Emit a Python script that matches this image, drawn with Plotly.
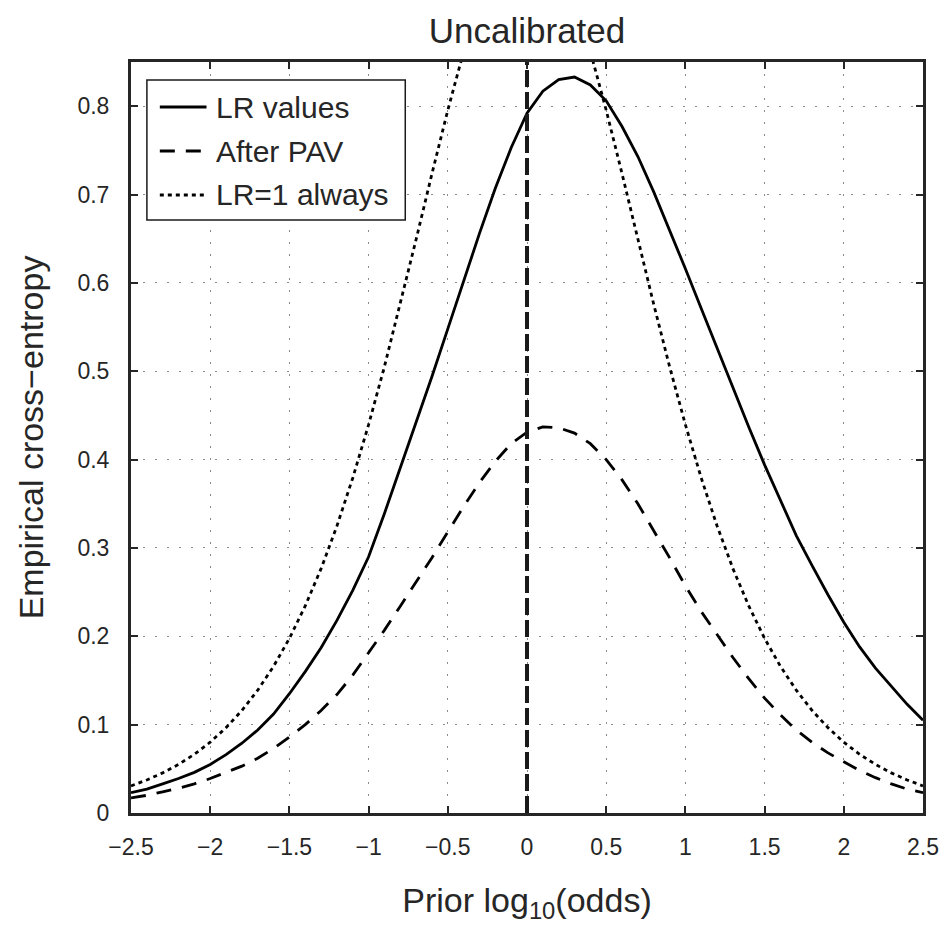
import plotly.graph_objects as go

# ---- data ----
prior_log10_odds = [-2.5, -2.4, -2.3, -2.2, -2.1, -2.0, -1.9, -1.8, -1.7, -1.6,
                    -1.5, -1.4, -1.3, -1.2, -1.1, -1.0, -0.9, -0.8, -0.7, -0.6,
                    -0.5, -0.4, -0.3, -0.2, -0.1, 0.0, 0.1, 0.2, 0.3, 0.4,
                    0.5, 0.6, 0.7, 0.8, 0.9, 1.0, 1.1, 1.2, 1.3, 1.4,
                    1.5, 1.6, 1.7, 1.8, 1.9, 2.0, 2.1, 2.2, 2.3, 2.4, 2.5]

lr_values = [0.023, 0.027, 0.033, 0.039, 0.046, 0.055, 0.066, 0.079, 0.094, 0.112,
             0.135, 0.160, 0.187, 0.218, 0.252, 0.290, 0.339, 0.390, 0.441, 0.494,
             0.548, 0.602, 0.656, 0.707, 0.753, 0.792, 0.817, 0.830, 0.833, 0.824,
             0.806, 0.777, 0.743, 0.703, 0.660, 0.616, 0.571, 0.526, 0.481, 0.437,
             0.394, 0.353, 0.314, 0.280, 0.247, 0.216, 0.188, 0.164, 0.143, 0.123, 0.105]

after_pav = [0.017, 0.020, 0.024, 0.028, 0.033, 0.039, 0.046, 0.053, 0.062, 0.073,
             0.086, 0.100, 0.116, 0.134, 0.156, 0.181, 0.207, 0.234, 0.261, 0.289,
             0.318, 0.347, 0.374, 0.398, 0.418, 0.431, 0.437, 0.436, 0.430, 0.418,
             0.400, 0.377, 0.350, 0.320, 0.289, 0.257, 0.228, 0.202, 0.176, 0.152,
             0.130, 0.111, 0.094, 0.080, 0.068, 0.058, 0.048, 0.040, 0.033, 0.027, 0.023]

lr1_always = [0.0307, 0.0374, 0.0454, 0.0550, 0.0664, 0.0801, 0.0966, 0.1160, 0.1390, 0.1660,
              0.1976, 0.2344, 0.2766, 0.3249, 0.3792, 0.4395, 0.5053, 0.5758, 0.6492, 0.7236,
              0.7955, 0.8618, 0.9189, 0.9628, 0.9905, 1.0000, 0.9905, 0.9628, 0.9189, 0.8618,
              0.7955, 0.7236, 0.6492, 0.5758, 0.5053, 0.4395, 0.3792, 0.3249, 0.2766, 0.2344,
              0.1976, 0.1660, 0.1390, 0.1160, 0.0966, 0.0801, 0.0664, 0.0550, 0.0454, 0.0374, 0.0307]

x_tick_vals = [-2.5, -2.0, -1.5, -1.0, -0.5, 0.0, 0.5, 1.0, 1.5, 2.0, 2.5]
x_tick_text = ["\u22122.5", "\u22122", "\u22121.5", "\u22121", "\u22120.5", "0",
               "0.5", "1", "1.5", "2", "2.5"]
y_tick_vals = [0.0, 0.1, 0.2, 0.3, 0.4, 0.5, 0.6, 0.7, 0.8]
y_tick_text = ["0", "0.1", "0.2", "0.3", "0.4", "0.5", "0.6", "0.7", "0.8"]
reference_x = [0.0]

series_names = ["LR values", "After PAV", "LR=1 always"]

FONT = "Liberation Sans, Arial, Helvetica, sans-serif"
INK = "#262626"

fig = go.Figure()
series = [(lr_values, "solid", 2.8), (after_pav, "15px,11px", 2.8), (lr1_always, "4px,4px", 2.8)]
for name, (vals, dash, w) in zip(series_names, series):
    fig.add_trace(go.Scatter(x=prior_log10_odds, y=vals, mode="lines", name=name,
                             line=dict(color="black", width=w, dash=dash),
                             showlegend=False, hoverinfo="x+y+name"))

# vertical reference line at prior log odds = 0
for xv in reference_x:
    fig.add_shape(type="line", xref="x", yref="y domain", x0=xv, x1=xv, y0=0, y1=1,
                  line=dict(color="#1a1a1a", width=4, dash="17px,5px"), layer="above")

# ---- manual legend (box, samples, labels) ----
def px_x(p):
    return (p - 131) / 797.0

def px_y(p):
    return (813 - p) / 751.0

fig.add_shape(type="rect", xref="paper", yref="paper",
              x0=px_x(147), x1=px_x(407), y0=px_y(220), y1=px_y(80),
              line=dict(color="#1a1a1a", width=1.5), fillcolor="white", layer="above")
rows = [107, 151, 195]
dashes = ["solid", "15px,11px", "4px,4px"]
for name, row, dash in zip(series_names, rows, dashes):
    fig.add_shape(type="line", xref="paper", yref="paper",
                  x0=px_x(160), x1=px_x(207), y0=px_y(row), y1=px_y(row),
                  line=dict(color="black", width=2.8, dash=dash), layer="above")
    fig.add_annotation(xref="paper", yref="paper", x=px_x(215), y=px_y(row),
                       text=name, showarrow=False, xanchor="left", yanchor="middle",
                       font=dict(family=FONT, size=30, color=INK))

axis_common = dict(
    showline=True, linewidth=3, linecolor=INK, mirror="ticks",
    ticks="inside", ticklen=7, tickwidth=1.5, tickcolor=INK,
    showgrid=True, gridcolor="#8c8c8c", gridwidth=1.3, griddash="2px,10px",
    zeroline=False, tickfont=dict(family=FONT, size=23, color=INK),
)

fig.update_layout(
    width=951, height=937,
    margin=dict(l=131, r=23, t=62, b=124),
    paper_bgcolor="white", plot_bgcolor="white",
    font=dict(family=FONT, color=INK),
    title=dict(text="Uncalibrated", x=0.5, xref="paper", xanchor="center",
               y=1 - 31 / 937, yref="container", yanchor="middle",
               font=dict(family=FONT, size=35, color=INK)),
    xaxis=dict(range=[-2.5, 2.5], tickmode="array", tickvals=x_tick_vals, ticktext=x_tick_text,
               ticklabelstandoff=11,
               title=dict(text="Prior log<sub>10</sub>(odds)", standoff=30,
                          font=dict(family=FONT, size=34, color=INK)),
               **axis_common),
    yaxis=dict(range=[0, 0.85], tickmode="array", tickvals=y_tick_vals, ticktext=y_tick_text,
               ticklabelstandoff=14,
               title=dict(text="Empirical cross\u2212entropy", standoff=24,
                          font=dict(family=FONT, size=34, color=INK)),
               **axis_common),
)

fig.write_html("out.html", config={"displayModeBar": False},
               post_script="document.body.style.margin='0';")
